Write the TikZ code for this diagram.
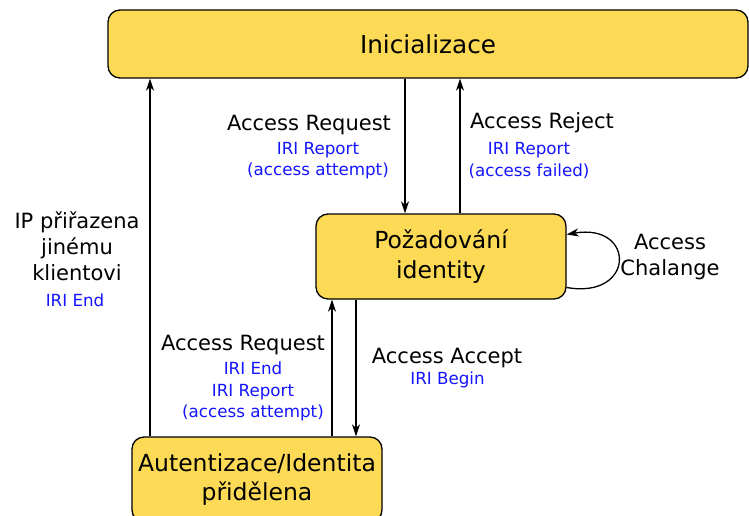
\documentclass[tikz,border=0pt]{standalone}
\usepackage{fontspec}
\setmainfont{DejaVu Sans}
\usetikzlibrary{arrows.meta,calc}
\definecolor{boxyellow}{RGB}{253,218,85}
\definecolor{iriblue}{RGB}{20,20,255}
\begin{document}
\begin{tikzpicture}[x=1pt,y=-1pt,
  state/.style={draw=black,line width=1.3pt,fill=boxyellow,rounded corners=12pt,
    align=center,inner sep=0pt,font=\fontsize{23.5}{29.5}\selectfont},
  lbl/.style={inner sep=0pt,align=center,font=\fontsize{21}{26}\selectfont},
  iri/.style={inner sep=0pt,align=center,text=iriblue,font=\fontsize{16.7}{21.5}\selectfont},
  arr/.style={line width=1.3pt,-{Stealth[length=12pt,width=8pt,inset=3.5pt]}}]
\useasboundingbox (0,0) rectangle (749,516);
\node[state,minimum width=640pt,minimum height=68pt,font=\fontsize{24.7}{30}\selectfont] (ini) at (428,44) {Inicializace};
\node[state,minimum width=250pt,minimum height=85pt] (pz) at (441,256.5) {Požadování\\identity};
\node[state,minimum width=250pt,minimum height=85pt] (au) at (257,479.5) {Autentizace/Identita\\přidělena};
\coordinate (xl) at (150,0);
\coordinate (xa) at (405,0);
\coordinate (xb) at (460,0);
\coordinate (xc) at (332,0);
\coordinate (xd) at (356,0);
\draw[arr] (au.north -| xl) -- (ini.south -| xl);
\draw[arr] (ini.south -| xa) -- (pz.north -| xa);
\draw[arr] (pz.north -| xb) -- (ini.south -| xb);
\draw[arr] (au.north -| xc) -- (pz.south -| xc);
\draw[arr] (pz.south -| xd) -- (au.north -| xd);
\draw[arr] ($(pz.east)+(0,31)$) .. controls ($(pz.east)+(69,43)$) and ($(pz.east)+(69,-34)$) .. ($(pz.east)+(0,-22)$);
% labels
\node[lbl] (l1) at (309,125) {Access Request};
\node[iri] (b1) at (318,160.5) {IRI Report\\(access attempt)};
\node[lbl] (l2) at (542,123) {Access Reject};
\node[iri] (b2) at (529,160.5) {IRI Report\\(access failed)};
\node[lbl] (l3) at (77,246) {IP přiřazena\\jinému\\klientovi};
\node[iri] (b3) at (75,300) {IRI End};
\node[lbl] (l4) at (670,257.5) {Access\\Chalange};
\node[lbl] (l5) at (243,345) {Access Request};
\node[iri] (b5) at (253,391.5) {IRI End\\IRI Report\\(access attempt)};
\node[lbl] (l6) at (447,358) {Access Accept};
\node[iri] (b6) at (447.5,380) {IRI Begin};
\end{tikzpicture}
\end{document}
